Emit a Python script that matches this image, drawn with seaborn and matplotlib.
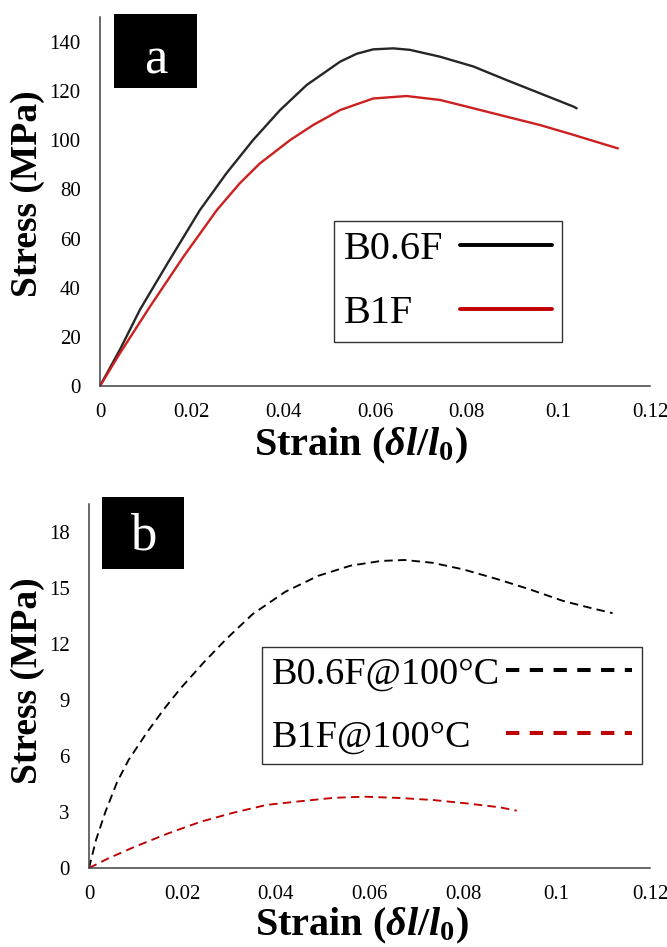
import matplotlib
matplotlib.use("Agg")
import matplotlib.pyplot as plt
from matplotlib.patches import Rectangle
import seaborn as sns
import pandas as pd

# ---------------- data ----------------
# Panel a (room temperature)
a_b06_strain = [0, 0.0044, 0.0087, 0.0146, 0.0218, 0.0276, 0.0334, 0.0393, 0.0451, 0.0524,
                0.0560, 0.0596, 0.0640, 0.0676, 0.0742, 0.0815, 0.0887, 0.0960, 0.1033, 0.1040]
a_b06_stress = [0, 15.0, 31.0, 49.5, 71.6, 86.6, 100.1, 112.3, 122.5, 132.0,
                135.2, 137.0, 137.4, 136.8, 134.0, 130.0, 124.5, 119.1, 113.7, 113.0]
a_b1_strain = [0, 0.0044, 0.0109, 0.0182, 0.0255, 0.0305, 0.0349, 0.0415, 0.0465, 0.0524,
               0.0596, 0.0669, 0.0742, 0.0815, 0.0887, 0.0960, 0.1033, 0.1105, 0.1130]
a_b1_stress = [0, 13.5, 32.3, 52.6, 71.6, 82.5, 90.6, 100.1, 106.2, 112.3,
               117.0, 118.0, 116.4, 113.0, 109.6, 106.2, 102.2, 98.1, 96.7]

# Panel b (100 °C)
b_b06_strain = [0, 0.0015, 0.0035, 0.0060, 0.0085, 0.0125, 0.0160, 0.0195, 0.0245, 0.0295,
                0.0350, 0.0420, 0.0490, 0.0560, 0.0625, 0.0675, 0.0735, 0.0800, 0.0870,
                0.0940, 0.1015, 0.1070, 0.1120]
b_b06_stress = [0, 1.5, 3.0, 4.6, 5.8, 7.3, 8.5, 9.6, 11.0, 12.3,
                13.6, 14.8, 15.65, 16.2, 16.45, 16.5, 16.35, 16.0, 15.5,
                14.95, 14.3, 13.95, 13.65]
b_b1_strain = [0, 0.0040, 0.0098, 0.0170, 0.0239, 0.0310, 0.0380, 0.0453, 0.0524, 0.0590,
               0.0665, 0.0737, 0.0808, 0.0879, 0.0915]
b_b1_stress = [0, 0.5, 1.14, 1.86, 2.48, 2.97, 3.38, 3.58, 3.76, 3.82,
               3.75, 3.64, 3.46, 3.25, 3.07]

labels_a = ["B0.6F", "B1F"]
labels_b = ["B0.6F@100°C", "B1F@100°C"]

x_ticks = [0, 0.02, 0.04, 0.06, 0.08, 0.1, 0.12]
x_ticklabels = ["0", "0.02", "0.04", "0.06", "0.08", "0.1", "0.12"]
ya_ticks = [0, 20, 40, 60, 80, 100, 120, 140]
yb_ticks = [0, 3, 6, 9, 12, 15, 18]

# ---------------- style ----------------
sns.set_style("white")
plt.rcParams["font.family"] = ["Liberation Serif", "DejaVu Serif"]
plt.rcParams["mathtext.fontset"] = "custom"
plt.rcParams["mathtext.rm"] = "Liberation Serif:bold"
plt.rcParams["mathtext.it"] = "Liberation Serif:italic:bold"
plt.rcParams["mathtext.bf"] = "Liberation Serif:bold"
plt.rcParams["text.color"] = "black"
plt.rcParams["axes.labelcolor"] = "black"
plt.rcParams["xtick.color"] = "black"
plt.rcParams["ytick.color"] = "black"

W, H = 667, 947
fig = plt.figure(figsize=(W / 100, H / 100), dpi=100)

ax_a = fig.add_axes([100 / W, 1 - 386 / H, 550 / W, (386 - 17.4) / H])
ax_b = fig.add_axes([89 / W, 1 - 868 / H, 561 / W, (868 - 504) / H])

df_a1 = pd.DataFrame({"strain": a_b06_strain, "stress": a_b06_stress})
df_a2 = pd.DataFrame({"strain": a_b1_strain, "stress": a_b1_stress})
df_b1 = pd.DataFrame({"strain": b_b06_strain, "stress": b_b06_stress})
df_b2 = pd.DataFrame({"strain": b_b1_strain, "stress": b_b1_stress})

BLACK = "#262626"
RED = "#cc2020"
RED_DARK = "#c00000"

sns.lineplot(data=df_a1, x="strain", y="stress", ax=ax_a, color=BLACK, lw=1.7,
             sort=False, estimator=None, label=labels_a[0])
sns.lineplot(data=df_a2, x="strain", y="stress", ax=ax_a, color=RED, lw=1.7,
             sort=False, estimator=None, label=labels_a[1])
sns.lineplot(data=df_b1, x="strain", y="stress", ax=ax_b, color="black", lw=1.35,
             sort=False, estimator=None, label=labels_b[0], linestyle=(0, (4.5, 2.8)))
sns.lineplot(data=df_b2, x="strain", y="stress", ax=ax_b, color=RED_DARK, lw=1.35,
             sort=False, estimator=None, label=labels_b[1], linestyle=(0, (4.5, 2.8)))

xlabel = r"Strain ($\mathit{\delta l/l_0}$)"

for ax, yt, ylim in [(ax_a, ya_ticks, 150), (ax_b, yb_ticks, 19.5)]:
    ax.set_xlim(0, 0.12)
    ax.set_ylim(0, ylim)
    ax.set_xticks(x_ticks)
    ax.set_xticklabels(x_ticklabels)
    ax.set_yticks(yt)
    ax.set_yticklabels([str(v) for v in yt])
    ax.tick_params(axis="both", length=0, labelsize=15, colors="black")
    ax.tick_params(axis="y", pad=14)
    ax.tick_params(axis="x", pad=12.5)
    sns.despine(ax=ax)
    for s in ("left", "bottom"):
        ax.spines[s].set_color("#404040")
        ax.spines[s].set_linewidth(1.1)
    ax.set_xlabel(xlabel, fontsize=29, fontweight="bold", color="black")
    ax.set_ylabel("Stress (MPa)", fontsize=27, fontweight="bold", color="black")
    ax.grid(False)

ax_a.xaxis.set_label_coords((361 - 100) / 550, -(446 - 386) / 368.6)
ax_a.xaxis.label.set_va("center")
ax_a.yaxis.set_label_coords(-(100 - 28) / 550, (386 - 194) / 368.6)
ax_a.yaxis.label.set_va("center")
ax_b.xaxis.set_label_coords((362 - 89) / 561, -(926 - 868) / 364)
ax_b.xaxis.label.set_va("center")
ax_b.yaxis.set_label_coords(-(89 - 28) / 561, (868 - 681) / 364)
ax_b.yaxis.label.set_va("center")

# ---------------- legends ----------------
def make_legend(ax, labels, fsize, anchor_px, hlen, htpad, lspace, bpad, colors, lw, dash=None):
    h, l = ax.get_legend_handles_labels()
    leg = ax.legend(h, labels, loc="upper left",
                    bbox_to_anchor=(anchor_px[0] / W, 1 - anchor_px[1] / H),
                    bbox_transform=fig.transFigure, borderaxespad=0,
                    fontsize=fsize, frameon=True, fancybox=False, shadow=False,
                    markerfirst=False, handlelength=hlen, handletextpad=htpad,
                    labelspacing=lspace, borderpad=bpad, framealpha=1)
    fr = leg.get_frame()
    fr.set_edgecolor("#333333")
    fr.set_linewidth(1.0)
    for t in leg.get_texts():
        t.set_color("black")
    for line, c in zip(leg.get_lines(), colors):
        line.set_color(c)
        line.set_linewidth(lw)
        if dash is not None:
            line.set_linestyle((0, dash))
    return leg

leg_a = make_legend(ax_a, labels_a, 29, (334, 221), 2.3, 0.4, 0.65, 0.25,
                    ["black", RED_DARK], 2.8)
leg_b = make_legend(ax_b, labels_b, 27.5, (262, 647), 3.3, 0.17, 0.75, 0.25,
                    ["black", RED_DARK], 2.9, dash=(3.3, 2.6))

# align handles: texts left-aligned, handles in one column
fig.canvas.draw()
renderer = fig.canvas.get_renderer()
for leg in (leg_a, leg_b):
    texts = leg.get_texts()
    widths = [t.get_window_extent(renderer).width for t in texts]
    wmax = max(widths)
    rows = leg._legend_handle_box.get_children()[0].get_children()
    for row, w in zip(rows, widths):
        row.sep = row.sep + (wmax - w) * 72 / fig.dpi

# ---------------- panel tags ----------------
for (x0, y0, w, h, tag, bx, by) in [(114, 14, 83, 74, "a", 155.5, 73),
                                    (102, 497, 82, 72, "b", 143, 550)]:
    fig.add_artist(Rectangle((x0 / W, 1 - (y0 + h) / H), w / W, h / H,
                             transform=fig.transFigure, facecolor="black",
                             edgecolor="none", zorder=5))
    fig.text(bx / W, 1 - by / H, tag, color="white", fontsize=38,
             ha="center", va="baseline", zorder=6)

fig.savefig("out.png", dpi=100, facecolor="white")
